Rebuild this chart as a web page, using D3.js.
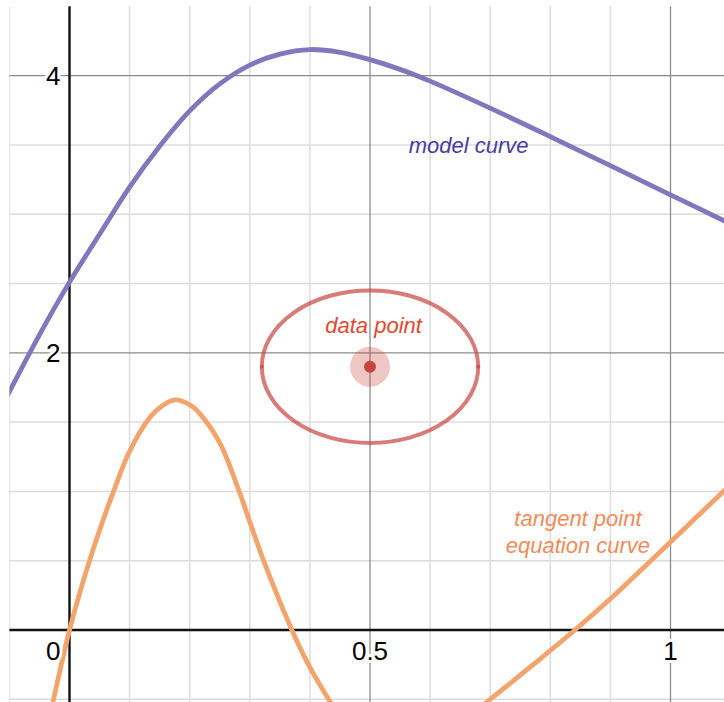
<!DOCTYPE html>
<html>
<head>
<meta charset="utf-8">
<script src="https://cdn.jsdelivr.net/npm/d3@7"></script>
<style>
  body { margin: 0; background: #fff; }
  text { font-family: "Liberation Sans", Arial, sans-serif; }
</style>
</head>
<body>
<div id="graph"></div>
<script>
const modelColor = '#8077bd';
const tangentColor = '#f2a46c';
const pointColor = '#c74440';

// model curve
const modelX = [-0.12, -0.1, -0.05, 0, 0.05, 0.1, 0.15, 0.2, 0.25, 0.3, 0.35, 0.4, 0.45, 0.5, 0.55, 0.6, 0.7, 0.8, 0.9, 1.0, 1.1];
const modelY = [1.55, 1.72, 2.13, 2.51, 2.855, 3.195, 3.49, 3.745, 3.94, 4.075, 4.155, 4.188, 4.168, 4.115, 4.045, 3.96, 3.765, 3.56, 3.35, 3.14, 2.93];

// tangent point equation curve, two branches
const tangentX1 = [-0.045, -0.03, 0, 0.037, 0.075, 0.1, 0.135, 0.155, 0.176, 0.2, 0.217, 0.25, 0.284, 0.3, 0.323, 0.37, 0.4, 0.434, 0.46];
const tangentY1 = [-0.87, -0.57, 0, 0.55, 1.02, 1.29, 1.54, 1.62, 1.66, 1.625, 1.56, 1.35, 0.98, 0.78, 0.5, 0, -0.27, -0.52, -0.7];
const tangentX2 = [0.67, 0.69, 0.716, 0.77, 0.841, 0.9, 1.0, 1.1];
const tangentY2 = [-0.603, -0.535, -0.445, -0.255, 0, 0.225, 0.635, 1.05];

// data point with its ellipse
const dataPoint = {x: 0.5, y: 1.9, rx: 0.18, ry: 0.55};

// grid and tick labels
const xMinor = [-0.1, 0.1, 0.2, 0.3, 0.4, 0.6, 0.7, 0.8, 0.9];
const xMajor = [0.5, 1];
const yMinor = [-0.5, 0.5, 1, 1.5, 2.5, 3, 3.5];
const yMajor = [2, 4];
const xLabels = [0.5, 1];
const yLabels = [2, 4];

function drawGraph() {
    var width = 724, height = 702;

    var x = d3.scaleLinear().domain([-0.1, 1.09]).range([9.4, 724.6]);
    var y = d3.scaleLinear().domain([-0.52, 4.5]).range([702.1, 6.3]);

    var svg = d3.select('#graph').append('svg')
        .attr('width', width)
        .attr('height', height);

    svg.append('defs').append('clipPath').attr('id', 'plot')
        .append('rect')
        .attr('x', x(-0.1)).attr('y', y(4.5))
        .attr('width', width - x(-0.1)).attr('height', height - y(4.5));

    var g = svg.append('g').attr('clip-path', 'url(#plot)');

    // grid
    g.selectAll('.xminor').data(xMinor).enter().append('line')
        .attr('x1', d => x(d)).attr('x2', d => x(d))
        .attr('y1', 0).attr('y2', height)
        .style('stroke', '#dcdcdc').style('stroke-width', 1.5);
    g.selectAll('.yminor').data(yMinor).enter().append('line')
        .attr('y1', d => y(d)).attr('y2', d => y(d))
        .attr('x1', 0).attr('x2', width)
        .style('stroke', '#dcdcdc').style('stroke-width', 1.5);
    g.selectAll('.xmajor').data(xMajor).enter().append('line')
        .attr('x1', d => x(d)).attr('x2', d => x(d))
        .attr('y1', 0).attr('y2', height)
        .style('stroke', '#8c8c8c').style('stroke-width', 1.3);
    g.selectAll('.ymajor').data(yMajor).enter().append('line')
        .attr('y1', d => y(d)).attr('y2', d => y(d))
        .attr('x1', 0).attr('x2', width)
        .style('stroke', '#8c8c8c').style('stroke-width', 1.3);

    // tick labels with white halo
    var labels = svg.append('g')
        .style('font-size', '26px')
        .style('fill', '#000')
        .style('stroke', '#fff')
        .style('stroke-width', 6)
        .style('stroke-linejoin', 'round')
        .style('paint-order', 'stroke');
    labels.selectAll('.xl').data(xLabels).enter().append('text')
        .attr('x', d => x(d)).attr('y', y(0) + 30)
        .attr('text-anchor', 'middle')
        .text(d => d);
    labels.selectAll('.yl').data(yLabels).enter().append('text')
        .attr('x', x(0) - 9).attr('y', d => y(d) + 9.5)
        .attr('text-anchor', 'end')
        .text(d => d);
    labels.append('text')
        .attr('x', x(0) - 9).attr('y', y(0) + 30)
        .attr('text-anchor', 'end')
        .text('0');

    // axes
    g.append('line')
        .attr('x1', x(0)).attr('x2', x(0)).attr('y1', 0).attr('y2', height)
        .style('stroke', '#111').style('stroke-width', 2.4);
    g.append('line')
        .attr('y1', y(0)).attr('y2', y(0)).attr('x1', 0).attr('x2', width)
        .style('stroke', '#111').style('stroke-width', 2.4);

    var line = d3.line()
        .x(d => x(d[0]))
        .y(d => y(d[1]))
        .curve(d3.curveCatmullRom.alpha(0.5));

    // model curve
    g.append('path')
        .datum(d3.zip(modelX, modelY))
        .attr('d', line)
        .style('fill', 'none').style('stroke', modelColor).style('stroke-width', 4.8);

    // tangent point equation curve
    [d3.zip(tangentX1, tangentY1), d3.zip(tangentX2, tangentY2)].forEach(function(branch) {
        g.append('path')
            .datum(branch)
            .attr('d', line)
            .style('fill', 'none').style('stroke', tangentColor).style('stroke-width', 4.8);
    });

    // ellipse around the data point, drawn as two halves
    var cx = x(dataPoint.x), cy = y(dataPoint.y);
    var rx = x(dataPoint.x + dataPoint.rx) - cx;
    var ry = y(dataPoint.y) - y(dataPoint.y + dataPoint.ry);
    [1, 0].forEach(function(sweep) {
        g.append('path')
            .attr('d', 'M' + (cx - rx) + ',' + cy + ' A' + rx + ',' + ry + ' 0 0 ' + sweep + ' ' + (cx + rx) + ',' + cy)
            .style('fill', 'none')
            .style('stroke', pointColor)
            .style('stroke-opacity', 0.7)
            .style('stroke-width', 4)
            .style('stroke-linecap', 'round');
    });

    g.append('circle').attr('cx', cx).attr('cy', cy).attr('r', 20)
        .style('fill', pointColor).style('opacity', 0.3);
    g.append('circle').attr('cx', cx).attr('cy', cy).attr('r', 6)
        .style('fill', pointColor);

    // curve labels
    svg.append('text')
        .attr('x', x(0.664)).attr('y', y(3.44))
        .attr('text-anchor', 'middle')
        .style('font-size', '22px').style('font-style', 'italic')
        .style('fill', '#4b3ca0')
        .text('model curve');
    svg.append('text')
        .attr('x', x(0.506)).attr('y', y(2.145))
        .attr('text-anchor', 'middle')
        .style('font-size', '22px').style('font-style', 'italic')
        .style('fill', '#e5472e')
        .text('data point');
    svg.append('text')
        .attr('x', x(0.846)).attr('y', y(0.75))
        .attr('text-anchor', 'middle')
        .style('font-size', '22px').style('font-style', 'italic')
        .style('fill', '#f08c5a')
        .text('tangent point');
    svg.append('text')
        .attr('x', x(0.846)).attr('y', y(0.553))
        .attr('text-anchor', 'middle')
        .style('font-size', '22px').style('font-style', 'italic')
        .style('fill', '#f08c5a')
        .text('equation curve');
}

drawGraph();
</script>
</body>
</html>
